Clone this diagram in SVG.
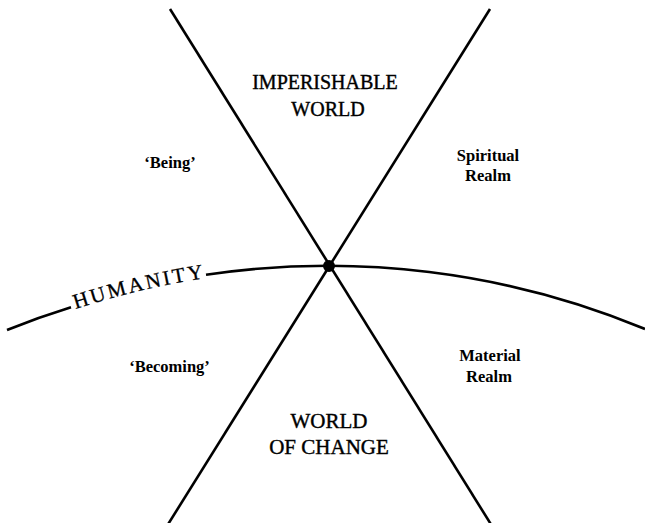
<svg xmlns="http://www.w3.org/2000/svg" width="645" height="523" viewBox="0 0 645 523">
<style>
.ln{fill:none;stroke:#000;stroke-width:2.6;stroke-linecap:butt}
.big{font-family:"Liberation Serif","Times New Roman",serif;font-size:20px;fill:#000;text-anchor:middle;stroke:#000;stroke-width:0.4}
.sm{font-family:"Liberation Serif","Times New Roman",serif;font-size:16.5px;font-weight:bold;fill:#000;text-anchor:middle}
.hum{font-family:"Liberation Serif","Times New Roman",serif;font-size:21px;fill:#000;letter-spacing:2.5px;stroke:#000;stroke-width:0.3}
</style>
<defs>
<path id="humPath" d="M 68 311.5 A 824 824 0 0 1 214 276.8"/>
</defs>
<rect width="645" height="523" fill="#fff"/>
<g id="connectors">
<line class="ln" x1="170" y1="9" x2="492" y2="526"/>
<line class="ln" x1="490" y1="9" x2="167" y2="526"/>
<path class="ln" d="M 7 330 A 827 827 0 0 1 71 307.3"/>
<path class="ln" d="M 206 274.8 A 827 827 0 0 1 645 329"/>
</g>
<g id="center"><circle cx="329" cy="266" r="6" fill="#000"/></g>
<g id="humanity">
<text class="hum"><textPath href="#humPath" startOffset="50%" text-anchor="middle">HUMANITY</textPath></text>
</g>
<g id="imperishable">
<text class="big" x="325" y="89">IMPERISHABLE</text>
<text class="big" x="328" y="116">WORLD</text>
</g>
<g id="change">
<text class="big" x="329" y="428" style="font-size:21px">WORLD</text>
<text class="big" x="329" y="454" style="font-size:21px">OF CHANGE</text>
</g>
<g id="being"><text class="sm" x="170" y="168">‘Being’</text></g>
<g id="becoming"><text class="sm" x="169.5" y="372">‘Becoming’</text></g>
<g id="spiritual">
<text class="sm" x="488" y="161">Spiritual</text>
<text class="sm" x="488" y="181">Realm</text>
</g>
<g id="material">
<text class="sm" x="490" y="361">Material</text>
<text class="sm" x="489" y="382">Realm</text>
</g>
</svg>
